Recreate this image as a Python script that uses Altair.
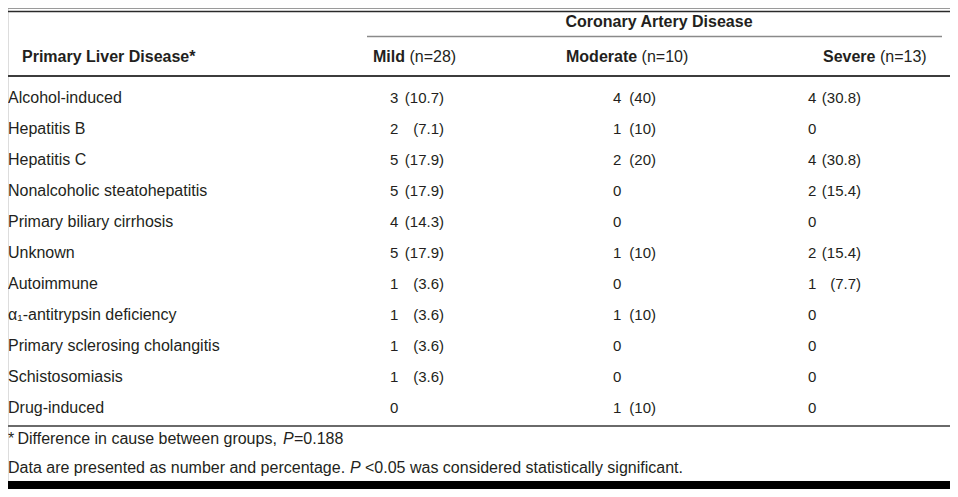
import altair as alt
import pandas as pd

# ---------------- data ----------------
diseases = [
    "Alcohol-induced", "Hepatitis B", "Hepatitis C", "Nonalcoholic steatohepatitis",
    "Primary biliary cirrhosis", "Unknown", "Autoimmune", "α₁-antitrypsin deficiency",
    "Primary sclerosing cholangitis", "Schistosomiasis", "Drug-induced",
]
groups = ["Mild", "Moderate", "Severe"]
group_sizes = [28, 10, 13]
mild_n = [3, 2, 5, 5, 4, 5, 1, 1, 1, 1, 0]
mild_pct = ["10.7", "7.1", "17.9", "17.9", "14.3", "17.9", "3.6", "3.6", "3.6", "3.6", ""]
moderate_n = [4, 1, 2, 0, 0, 1, 0, 1, 0, 0, 1]
moderate_pct = ["40", "10", "20", "", "", "10", "", "10", "", "", "10"]
severe_n = [4, 0, 4, 2, 0, 2, 1, 0, 0, 0, 0]
severe_pct = ["30.8", "", "30.8", "15.4", "", "15.4", "7.7", "", "", "", ""]

spanner = "Coronary Artery Disease"
row_header = "Primary Liver Disease*"
foot1 = ["*\u2009Difference in cause between groups,", "P", "=0.188"]
foot2 = ["Data are presented as number and percentage.", "P", "<0.05 was considered statistically significant."]

# ---------------- build table ----------------
records = []
for g, ns, ps in zip(groups, [mild_n, moderate_n, severe_n], [mild_pct, moderate_pct, severe_pct]):
    for d, n, p in zip(diseases, ns, ps):
        records.append({"group": g, "disease": d, "n": str(n), "pct": f"({p})" if p else ""})
df = pd.DataFrame(records)
labels_df = pd.DataFrame({"disease": diseases})

W, H = 942, 481
FONT = "Liberation Sans"
TXT = "#231f20"
FS = 16
CELL_FS = 15

yscale = alt.Scale(type="point", domain=diseases, range=[95.3, 405.3], padding=0)
Y = alt.Y("disease:N", sort=diseases, scale=yscale, axis=None)

one = alt.Data(values=[{"k": 1}])

layers = []

# row labels
layers.append(
    alt.Chart(labels_df).mark_text(align="left", baseline="alphabetic", font=FONT, fontSize=FS, color=TXT)
    .encode(x=alt.value(0), y=Y, text="disease:N")
)

# cell columns: number left x, pct right x
num_x = {"Mild": 382, "Moderate": 605, "Severe": 800}
pct_x = {"Mild": 436, "Moderate": 648, "Severe": 853}
for g in groups:
    layers.append(
        alt.Chart(df).transform_filter(alt.datum.group == g)
        .mark_text(align="left", baseline="alphabetic", font=FONT, fontSize=CELL_FS, color=TXT)
        .encode(x=alt.value(num_x[g]), y=Y, text="n:N")
    )
    layers.append(
        alt.Chart(df).transform_filter(alt.datum.group == g)
        .mark_text(align="right", baseline="alphabetic", font=FONT, fontSize=CELL_FS, color=TXT)
        .encode(x=alt.value(pct_x[g]), y=Y, text="pct:N")
    )

def txt(s, x, y, align="left", weight="normal", style="normal", size=FS):
    return alt.Chart(one).mark_text(
        text=s, align=align, baseline="alphabetic", font=FONT, fontSize=size,
        fontWeight=weight, fontStyle=style, color=TXT
    ).encode(x=alt.value(x), y=alt.value(y))

def rule(x1, x2, y, color, w):
    return alt.Chart(one).mark_rule(color=color, strokeWidth=w).encode(
        x=alt.value(x1), x2=alt.value(x2), y=alt.value(y)
    )

# headers
layers.append(txt(spanner, 651, 19, align="center", weight="bold"))
layers.append(txt(row_header, 14, 54, weight="bold"))
head_x = {"Mild": 365, "Moderate": 558, "Severe": 815}
bold_w = {"Mild": 36.5, "Moderate": 75.6, "Severe": 57}
for g, n in zip(groups, group_sizes):
    layers.append(txt(g, head_x[g], 54, weight="bold"))
    layers.append(txt(f"(n={n})", head_x[g] + bold_w[g], 54))

# footnotes
layers.append(txt(foot1[0], 0, 436))
layers.append(txt(foot1[1], 275, 436, style="italic"))
layers.append(txt(foot1[2], 286, 436))
layers.append(txt(foot2[0], 0, 465))
layers.append(txt(foot2[1], 342, 465, style="italic"))
layers.append(txt(foot2[2], 357, 465))

# rules
layers.append(rule(0, W, 0.5, "#9a9a9a", 1.2))
layers.append(rule(0, W, 3.5, "#2a2a2a", 1.5))
layers.append(rule(359, 934, 28.5, "#8a8a8a", 1.6))
layers.append(rule(0, W, 68, "#3c3c3c", 2))
layers.append(rule(0, W, 418, "#6a6a6a", 2))
layers.append(rule(0, W, 477, "#000000", 8))

chart = alt.layer(*layers).properties(
    width=W, height=H, padding=0, autosize=alt.AutoSizeParams(type="none")
).configure_view(stroke=None).configure(background="white")

chart.save("out.html", embed_options={"renderer": "svg", "actions": False})
